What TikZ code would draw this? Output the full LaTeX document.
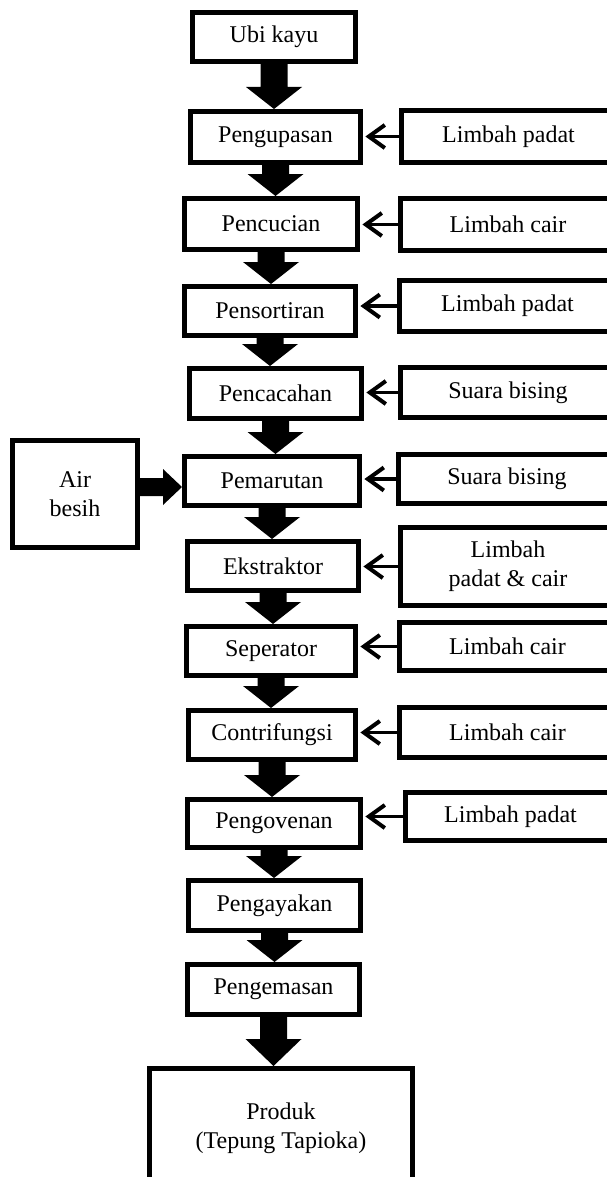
\documentclass[tikz,border=0pt]{standalone}
\usepackage{fontspec}
\setmainfont{Liberation Serif}
\usetikzlibrary{calc,arrows.meta}
\tikzset{
  box/.style={draw, line width=2.5pt, inner sep=0pt, align=center,
    font=\fontsize{12}{14.5}\selectfont},
  thinarrow/.style={line width=1.7pt, shorten >=1.2pt,
    -{Straight Barb[length=8pt,width=11.5pt,line width=2pt]}},
  fatfill/.style={fill=black}
}
% \bx{name}{x1}{y1}{x2}{y2}{text}  (pixel coordinates, outer edges)
\newcommand\bx[6]{\node[box, minimum width={(#4-#2-5)*0.5pt}, minimum height={(#5-#3-5)*0.5pt}] (#1) at ({(#2+#4)/2},{(#3+#5)/2}) {#6};}
% \fatarrow[head length]{from}{to}
\newcommand\fatarrow[3][22]{%
  \fill[fatfill] ($(#2.south)+(-13.5,0)$) -- ($(#2.south)+(13.5,0)$)
    -- ($(#2.south |- #3.north)+(13.5,-#1)$) -- ($(#2.south |- #3.north)+(28,-#1)$)
    -- (#2.south |- #3.north)
    -- ($(#2.south |- #3.north)+(-28,-#1)$) -- ($(#2.south |- #3.north)+(-13.5,-#1)$)
    -- cycle;}
\begin{document}
\begin{tikzpicture}[x=0.5pt,y=-0.5pt]
\useasboundingbox (0,0) rectangle (606,1177);
% main column
\bx{ubi}{190}{10}{358}{64}{Ubi kayu}
\bx{la}{188}{109}{363}{165}{Pengupasan}
\bx{lb}{182}{196}{360}{252}{Pencucian}
\bx{lc}{182}{284}{358}{338}{Pensortiran}
\bx{ld}{187}{366}{364}{421}{Pencacahan}
\bx{le}{182}{454}{362}{508}{Pemarutan}
\bx{lf}{185}{539}{361}{593}{Ekstraktor}
\bx{lg}{184}{624}{358}{678}{Seperator}
\bx{lh}{186}{708}{358}{762}{Contrifungsi}
\bx{li}{185}{797}{363}{850}{Pengovenan}
\bx{lj}{186}{878}{363}{933}{Pengayakan}
\bx{lk}{185}{962}{362}{1017}{Pengemasan}
\bx{prod}{147}{1066}{415}{1190}{Produk\\(Tepung Tapioka)}
% side column
\bx{ra}{399}{108}{618}{165}{Limbah padat}
\bx{rb}{398}{196}{618}{253}{Limbah cair}
\bx{rc}{397}{278}{618}{334}{Limbah padat}
\bx{rd}{398}{365}{618}{420}{Suara bising}
\bx{re}{396}{452}{618}{506}{Suara bising}
\bx{rf}{398}{525}{618}{608}{Limbah\\padat \& cair}
\bx{rg}{397}{620}{618}{673}{Limbah cair}
\bx{rh}{397}{705}{618}{760}{Limbah cair}
\bx{ri}{403}{790}{618}{843}{Limbah padat}
% input
\bx{air}{10}{438}{140}{550}{Air\\besih}
% fat arrows
\fatarrow{ubi}{la}
\fatarrow{la}{lb}
\fatarrow{lb}{lc}
\fatarrow{lc}{ld}
\fatarrow{ld}{le}
\fatarrow{le}{lf}
\fatarrow{lf}{lg}
\fatarrow{lg}{lh}
\fatarrow{lh}{li}
\fatarrow{li}{lj}
\fatarrow{lj}{lk}
\fatarrow[27]{lk}{prod}
% Air besih arrow
\coordinate (tip) at ($(le.west)+(0,6)$);
\fill[fatfill] ($(air.east |- tip)+(0,-9)$) -- ($(tip)+(-19,-9)$) -- ($(tip)+(-19,-18)$)
  -- (tip) -- ($(tip)+(-19,18)$) -- ($(tip)+(-19,9)$) -- ($(air.east |- tip)+(0,9)$) -- cycle;
% thin arrows
\draw[thinarrow] (ra.west) -- (la.east |- ra.west);
\draw[thinarrow] (rb.west) -- (lb.east |- rb.west);
\draw[thinarrow] (rc.west) -- (lc.east |- rc.west);
\draw[thinarrow] (rd.west) -- (ld.east |- rd.west);
\draw[thinarrow] (re.west) -- (le.east |- re.west);
\draw[thinarrow] (rf.west) -- (lf.east |- rf.west);
\draw[thinarrow] (rg.west) -- (lg.east |- rg.west);
\draw[thinarrow] (rh.west) -- (lh.east |- rh.west);
\draw[thinarrow] (ri.west) -- (li.east |- ri.west);
\end{tikzpicture}
\end{document}
